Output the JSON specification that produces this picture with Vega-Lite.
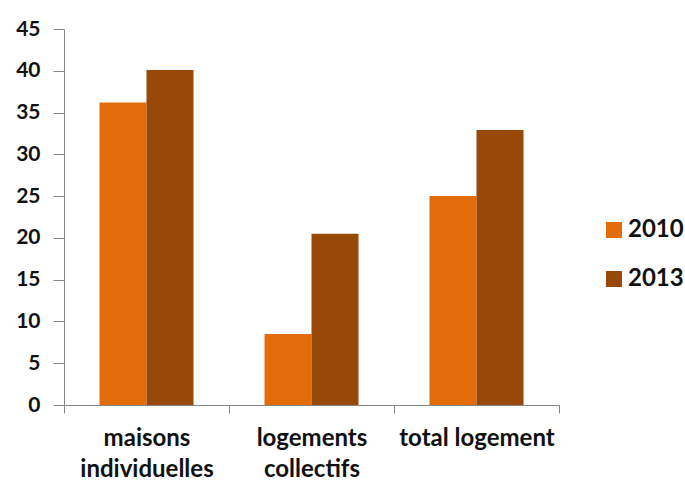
{
  "$schema": "https://vega.github.io/schema/vega-lite/v6.json",
  "autosize": "none",
  "width": 495,
  "height": 376,
  "padding": {"left": 64, "top": 29, "right": 126, "bottom": 78},
  "background": "white",
  "data": {
    "values": [
      {"categorie": "maisons|individuelles", "annee": "2010", "valeur": 36.2},
      {"categorie": "maisons|individuelles", "annee": "2013", "valeur": 40.1},
      {"categorie": "logements|collectifs", "annee": "2010", "valeur": 8.5},
      {"categorie": "logements|collectifs", "annee": "2013", "valeur": 20.5},
      {"categorie": "total logement", "annee": "2010", "valeur": 25.0},
      {"categorie": "total logement", "annee": "2013", "valeur": 32.9}
    ]
  },
  "mark": {"type": "bar"},
  "encoding": {
    "x": {
      "field": "categorie",
      "type": "nominal",
      "sort": ["maisons|individuelles", "logements|collectifs", "total logement"],
      "scale": {"paddingInner": 0, "paddingOuter": 0},
      "axis": {
        "title": null,
        "labelAngle": 0,
        "labelExpr": "split(datum.label, '|')",
        "labelFont": "Lato",
        "labelFontSize": 24,
        "labelFontWeight": "bold",
        "labelColor": "#111111",
        "labelLineHeight": 31,
        "labelPadding": 13,
        "tickBand": "extent",
        "tickSize": 8,
        "tickColor": "#868686",
        "domainColor": "#868686",
        "labelBaseline": "top"
      }
    },
    "xOffset": {
      "field": "annee",
      "type": "nominal",
      "scale": {"paddingInner": 0, "paddingOuter": 0.755}
    },
    "y": {
      "field": "valeur",
      "type": "quantitative",
      "scale": {"domain": [0, 45], "nice": false},
      "axis": {
        "title": null,
        "values": [0, 5, 10, 15, 20, 25, 30, 35, 40, 45],
        "grid": false,
        "labelFont": "Lato",
        "labelFontSize": 21,
        "labelFontWeight": "bold",
        "labelColor": "#111111",
        "labelPadding": 13,
        "tickSize": 11,
        "tickColor": "#868686",
        "domainColor": "#868686"
      }
    },
    "color": {
      "field": "annee",
      "type": "nominal",
      "scale": {"domain": ["2010", "2013"], "range": ["#E36C0A", "#984807"]},
      "legend": {
        "title": null,
        "orient": "none",
        "legendX": 538,
        "legendY": 189,
        "symbolType": "square",
        "symbolSize": 256,
        "symbolStrokeWidth": 0,
        "labelFont": "Lato",
        "labelFontSize": 24,
        "labelFontWeight": "bold",
        "labelColor": "#111111",
        "labelOffset": 2,
        "rowPadding": 25
      }
    }
  },
  "config": {"view": {"stroke": null}}
}
